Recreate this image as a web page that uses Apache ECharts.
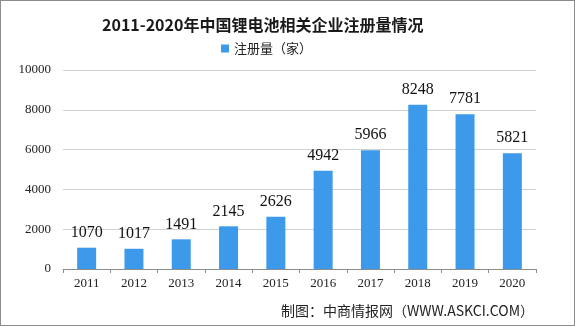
<!DOCTYPE html>
<html>
<head>
<meta charset="utf-8">
<script src="https://cdn.jsdelivr.net/npm/echarts@6/dist/echarts.min.js"></script>
<style>
  html, body { margin: 0; padding: 0; background: #fff; }
  #chart { width: 575px; height: 326px; box-sizing: border-box; border: 1px solid #8c8c8c; }
</style>
</head>
<body>
<div id="chart"></div>
<script>
// Lithium battery related company registrations in China, 2011-2020
const years = ['2011', '2012', '2013', '2014', '2015', '2016', '2017', '2018', '2019', '2020'];
const registrations = [1070, 1017, 1491, 2145, 2626, 4942, 5966, 8248, 7781, 5821];
const yTicks = [0, 2000, 4000, 6000, 8000, 10000];

const seriesName = '注册量（家）';
const numFont = '"Liberation Serif", "Noto Sans CJK SC", serif';
const cjkFont = '"Noto Sans CJK SC", sans-serif';

const chart = echarts.init(document.getElementById('chart'), null, { renderer: 'canvas' });
chart.setOption({
  animation: false,
  backgroundColor: '#fff',
  title: {
    text: '2011-2020年中国锂电池相关企业注册量情况',
    left: 96,
    top: 11,
    textStyle: { fontFamily: cjkFont, fontSize: 16, fontWeight: 'bold', color: '#1a1a1a' }
  },
  legend: {
    data: [seriesName],
    top: 36,
    left: 215,
    itemWidth: 8,
    itemHeight: 8,
    itemGap: 4,
    icon: 'rect',
    textStyle: { fontFamily: cjkFont, fontSize: 13, color: '#222' }
  },
  grid: { left: 62, right: 38, top: 69, bottom: 56, containLabel: false },
  xAxis: {
    type: 'category',
    data: years,
    axisLine: { lineStyle: { color: '#8c8c8c' } },
    axisTick: { show: true, length: 4, lineStyle: { color: '#8c8c8c' } },
    axisLabel: { fontFamily: numFont, fontSize: 13, color: '#222', margin: 8 }
  },
  yAxis: {
    type: 'value',
    min: yTicks[0],
    max: yTicks[yTicks.length - 1],
    interval: 2000,
    axisLine: { show: false },
    axisTick: { show: false },
    splitLine: { lineStyle: { color: '#d0d0d0' } },
    axisLabel: {
      fontFamily: numFont, fontSize: 13, color: '#222', margin: 12,
      formatter: function (v) { return String(v); }
    }
  },
  graphic: [{
    type: 'text',
    right: 40,
    bottom: 7,
    style: {
      text: '制图：中商情报网（WWW.ASKCI.COM）',
      font: '14px "Noto Sans CJK SC", sans-serif',
      fill: '#222'
    }
  }],
  series: [{
    name: seriesName,
    type: 'bar',
    data: registrations,
    barWidth: 19,
    itemStyle: { color: '#3d9aea' },
    label: {
      show: true,
      position: 'top',
      distance: 7,
      fontFamily: numFont,
      fontSize: 16,
      color: '#111'
    }
  }]
});
</script>
</body>
</html>
